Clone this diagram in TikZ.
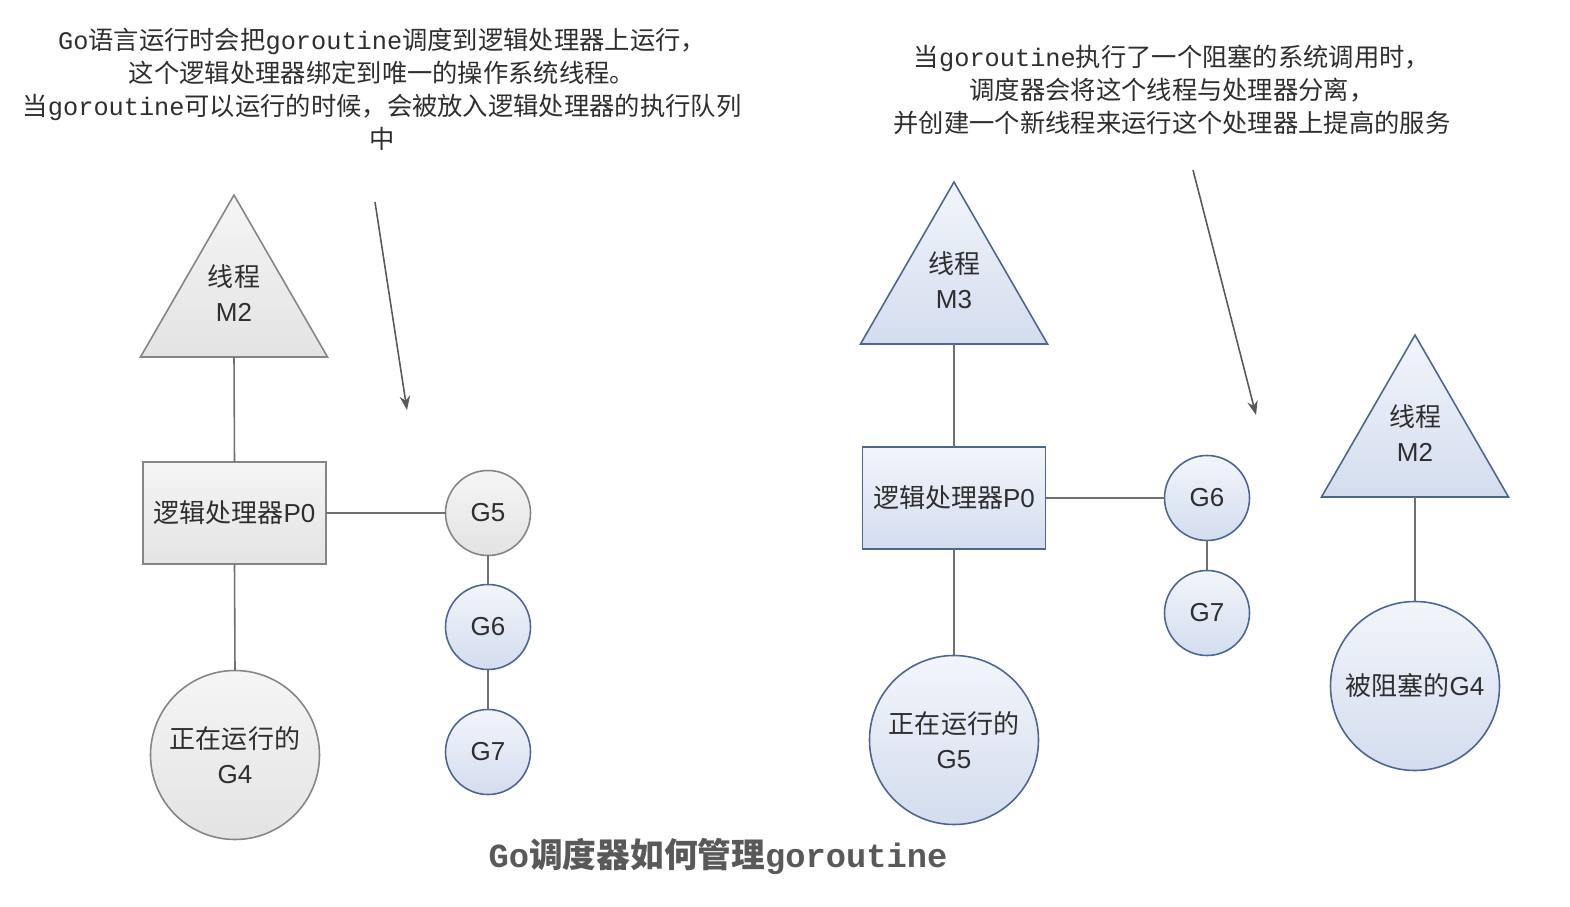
\documentclass[tikz,border=0pt]{standalone}
\usepackage{fontspec}
\setmainfont{Liberation Sans}
\newfontfamily\cjk{Noto Sans CJK SC}
\newfontfamily\mono{Liberation Mono}
\usepackage{xcolor}
\usetikzlibrary{arrows.meta, shapes.geometric}
\definecolor{linegray}{HTML}{707070}
\definecolor{graybd}{HTML}{858585}
\definecolor{graytop}{HTML}{F5F5F5}
\definecolor{graybot}{HTML}{E3E3E3}
\definecolor{bluebd}{HTML}{4C6690}
\definecolor{bluetop}{HTML}{F2F5FB}
\definecolor{bluebot}{HTML}{D3DDEE}
\definecolor{txt}{HTML}{2E2E2E}

\begin{document}
\begin{tikzpicture}[
  font=\fontsize{7.4}{9.8}\selectfont, text=txt,
  thread/.style={regular polygon, regular polygon sides=3, minimum size=2.11cm,
    inner sep=0pt, outer sep=0pt, align=center, text depth=0.2cm},
  proc/.style={rectangle, minimum width=1.83cm, minimum height=1.02cm,
    inner sep=0pt, outer sep=0pt},
  grt/.style={circle, minimum size=0.85cm, inner sep=0pt, outer sep=0pt},
  grun/.style={circle, minimum size=1.69cm, inner sep=0pt, outer sep=0pt, align=center},
  grayfill/.style={draw=graybd, line width=0.45pt, top color=graytop, bottom color=graybot},
  bluefill/.style={draw=bluebd, line width=0.45pt, top color=bluetop, bottom color=bluebot},
  link/.style={draw=linegray, line width=0.45pt},
  note/.style={align=center, font=\cjk\fontsize{7.2}{9.4}\selectfont},
  pointer/.style={draw=black!65, line width=0.45pt, -{Stealth[length=4pt, width=3pt]}}
]
  \useasboundingbox (0,0) rectangle (15.70,9.06);

  % left: M2 runs G4 through P0
  \node[thread, grayfill] (m2L) at (2.34,6.03) {{\cjk 线程}\\M2};
  \node[proc, grayfill] (p0L) at (2.345,3.93) {{\cjk 逻辑处理器}P0};
  \node[grun, grayfill] (g4L) at (2.35,1.51) {{\cjk 正在运行的}\\G4};
  % left: run queue
  \node[grt, grayfill] (g5L) at (4.88,3.93) {G5};
  \node[grt, bluefill] (g6L) at (4.88,2.79) {G6};
  \node[grt, bluefill] (g7L) at (4.88,1.54) {G7};
  \draw[link] (m2L.south) -- (p0L.north);
  \draw[link] (p0L.south) -- (g4L.north);
  \draw[link] (p0L.east) -- (g5L.west);
  \draw[link] (g5L) -- (g6L);
  \draw[link] (g6L) -- (g7L);

  % right: new thread M3 takes P0
  \node[thread, bluefill] (m3) at (9.54,6.16) {{\cjk 线程}\\M3};
  \node[proc, bluefill] (p0R) at (9.54,4.08) {{\cjk 逻辑处理器}P0};
  \node[grun, bluefill] (g5R) at (9.54,1.66) {{\cjk 正在运行的}\\G5};
  \node[grt, bluefill] (g6R) at (12.07,4.08) {G6};
  \node[grt, bluefill] (g7R) at (12.07,2.93) {G7};
  \draw[link] (m3.south) -- (p0R.north);
  \draw[link] (p0R.south) -- (g5R.north);
  \draw[link] (p0R.east) -- (g6R.west);
  \draw[link] (g6R) -- (g7R);
  % right: M2 held by the blocked G4
  \node[thread, bluefill] (m2R) at (14.15,4.63) {{\cjk 线程}\\M2};
  \node[grun, bluefill] (g4R) at (14.15,2.20) {{\cjk 被阻塞的}G4};
  \draw[link] (m2R.south) -- (g4R.north);

  % notes and their arrows
  \node[note] (noteL) at (3.82,8.165)
    {{\mono Go}语言运行时会把{\mono goroutine}调度到逻辑处理器上运行，\\
     这个逻辑处理器绑定到唯一的操作系统线程。\\
     当{\mono goroutine}可以运行的时候，会被放入逻辑处理器的执行队列\\
     中};
  \node[note] (noteR) at (11.72,8.16)
    {当{\mono goroutine}执行了一个阻塞的系统调用时，\\
     调度器会将这个线程与处理器分离，\\
     并创建一个新线程来运行这个处理器上提高的服务};
  \coordinate (tailL) at (3.75,7.04);
  \coordinate (tipL) at (4.07,4.96);
  \coordinate (tailR) at (11.93,7.36);
  \coordinate (tipR) at (12.56,4.91);
  \draw[pointer] (tailL) -- (tipL);
  \draw[pointer] (tailR) -- (tipR);

  % caption
  \node[font=\cjk\bfseries\fontsize{9.6}{12}\selectfont, text=black!65] (title)
    at (7.18,0.50) {{\mono Go}调度器如何管理{\mono goroutine}};
\end{tikzpicture}
\end{document}
